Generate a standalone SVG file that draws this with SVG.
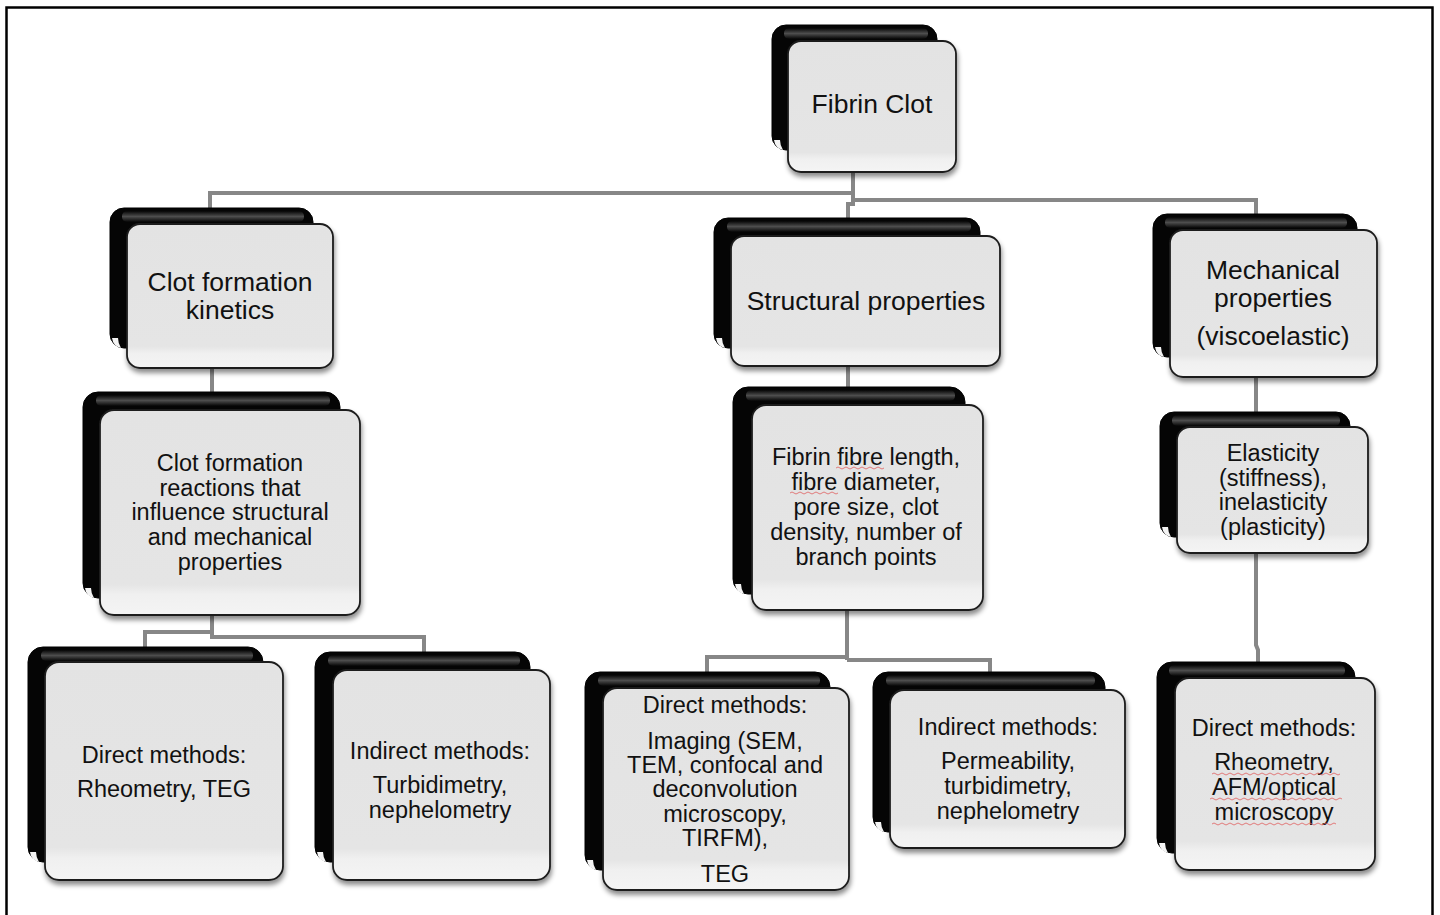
<svg xmlns="http://www.w3.org/2000/svg" width="1440" height="915" viewBox="0 0 1440 915">
<defs>
<filter id="sh" x="-10%" y="-10%" width="125%" height="130%">
<feDropShadow dx="1" dy="4" stdDeviation="2.5" flood-color="#000" flood-opacity="0.45"/>
</filter>
<linearGradient id="fg" x1="0" y1="0" x2="0" y2="1">
<stop offset="0" stop-color="#e3e3e3"/>
<stop offset="0.85" stop-color="#e5e5e5"/>
<stop offset="0.9" stop-color="#f0f0f0"/>
<stop offset="1" stop-color="#f4f4f4"/>
</linearGradient>
<linearGradient id="gl" x1="0" y1="0" x2="0" y2="1">
<stop offset="0" stop-color="#888" stop-opacity="0"/>
<stop offset="0.5" stop-color="#888" stop-opacity="0.55"/>
<stop offset="1" stop-color="#888" stop-opacity="0"/>
</linearGradient>
</defs>
<style>
.back{fill:#050505;stroke:#000;stroke-width:1}
.gloss{fill:url(#gl)}
.front{fill:url(#fg);stroke:#1c1c1c;stroke-width:1.8;filter:url(#sh)}
.curl{fill:#f4f4f4}
.conn{fill:none;stroke:#878787;stroke-width:4;stroke-linejoin:miter}
text{font-family:"Liberation Sans",Arial,sans-serif;fill:#111;text-anchor:middle}
.t1{font-size:26.5px}
.t2{font-size:23.5px}
.sq{fill:none;stroke:#e06060;stroke-width:1;opacity:0.8}
</style>
<rect x="0" y="0" width="1440" height="915" fill="#fff"/>
<rect x="6.5" y="7.5" width="1426" height="912" fill="none" stroke="#000" stroke-width="2.5"/>

<g id="connectors">
<path class="conn" d="M853,170 V193 H210 V212"/>
<path class="conn" d="M853,190 V200 H1256 V218"/>
<path class="conn" d="M853,200 V204 H848 V222"/>
<path class="conn" d="M212,366 V396"/>
<path class="conn" d="M212,613 V632 H145 V650"/>
<path class="conn" d="M212,630 V637 H424 V656"/>
<path class="conn" d="M848,364 V391"/>
<path class="conn" d="M847,608 V660"/>
<path class="conn" d="M847,657 H707 V676"/>
<path class="conn" d="M847,660 H990 V676"/>
<path class="conn" d="M1256,375 V416"/>
<path class="conn" d="M1256,551 V645 L1258,650 V666"/>
</g>

<g id="n-root">
<rect class="back" x="772" y="25" width="165" height="125" rx="14"/>
<rect class="gloss" x="784" y="28" width="144" height="11" rx="5"/>
<path class="curl" d="M774,140 q1,8 9,10 q-3,-5 -3,-10 z"/>
<rect class="front" x="788" y="41" width="168" height="131" rx="13"/>
<text class="t1" x="872" y="113">Fibrin Clot</text>
</g>

<g id="n-kinetics">
<rect class="back" x="110" y="208" width="203" height="140" rx="14"/>
<rect class="gloss" x="122" y="211" width="182" height="11" rx="5"/>
<path class="curl" d="M112,338 q1,8 9,10 q-3,-5 -3,-10 z"/>
<rect class="front" x="127" y="224" width="206" height="144" rx="13"/>
<text class="t1" x="230" y="291">Clot formation</text>
<text class="t1" x="230" y="319">kinetics</text>
</g>

<g id="n-reactions">
<rect class="back" x="83" y="392" width="257" height="206" rx="15"/>
<rect class="gloss" x="96" y="395" width="234" height="11" rx="5"/>
<path class="curl" d="M85,588 q1,8 9,10 q-3,-5 -3,-10 z"/>
<rect class="front" x="100" y="410" width="260" height="205" rx="14"/>
<text class="t2" x="230" y="471">Clot formation</text>
<text class="t2" x="230" y="496">reactions that</text>
<text class="t2" x="230" y="520">influence structural</text>
<text class="t2" x="230" y="545">and mechanical</text>
<text class="t2" x="230" y="570">properties</text>
</g>

<g id="n-left-direct">
<rect class="back" x="28" y="647" width="235" height="215" rx="15"/>
<rect class="gloss" x="41" y="650" width="212" height="11" rx="5"/>
<path class="curl" d="M30,852 q1,8 9,10 q-3,-5 -3,-10 z"/>
<rect class="front" x="45" y="662" width="238" height="218" rx="14"/>
<text class="t2" x="164" y="763">Direct methods:</text>
<text class="t2" x="164" y="797">Rheometry, TEG</text>
</g>

<g id="n-left-indirect">
<rect class="back" x="315" y="652" width="215" height="210" rx="15"/>
<rect class="gloss" x="328" y="655" width="192" height="11" rx="5"/>
<path class="curl" d="M317,852 q1,8 9,10 q-3,-5 -3,-10 z"/>
<rect class="front" x="333" y="670" width="217" height="210" rx="14"/>
<text class="t2" x="440" y="759">Indirect methods:</text>
<text class="t2" x="440" y="793">Turbidimetry,</text>
<text class="t2" x="440" y="818">nephelometry</text>
</g>

<g id="n-structural">
<rect class="back" x="714" y="218" width="266" height="130" rx="14"/>
<rect class="gloss" x="727" y="221" width="244" height="11" rx="5"/>
<path class="curl" d="M716,338 q1,8 9,10 q-3,-5 -3,-10 z"/>
<rect class="front" x="731" y="236" width="269" height="130" rx="13"/>
<text class="t1" x="866" y="310">Structural properties</text>
</g>

<g id="n-fibre">
<rect class="back" x="733" y="387" width="232" height="207" rx="15"/>
<rect class="gloss" x="746" y="390" width="209" height="11" rx="5"/>
<path class="curl" d="M735,584 q1,8 9,10 q-3,-5 -3,-10 z"/>
<rect class="front" x="752" y="405" width="231" height="205" rx="14"/>
<text class="t2" x="866" y="465">Fibrin fibre length,</text>
<text class="t2" x="866" y="490">fibre diameter,</text>
<text class="t2" x="866" y="515">pore size, clot</text>
<text class="t2" x="866" y="540">density, number of</text>
<text class="t2" x="866" y="565">branch points</text>
<path class="sq" d="M836,468 q2,-2 4,0 t4,0 t4,0 t4,0 t4,0 t4,0 t4,0 t4,0 t4,0 t4,0 t4,0 t4,0"/>
<path class="sq" d="M790,493 q2,-2 4,0 t4,0 t4,0 t4,0 t4,0 t4,0 t4,0 t4,0 t4,0 t4,0 t4,0 t4,0"/>
</g>

<g id="n-mid-direct">
<rect class="back" x="585" y="672" width="245" height="198" rx="15"/>
<rect class="gloss" x="598" y="675" width="222" height="11" rx="5"/>
<path class="curl" d="M587,860 q1,8 9,10 q-3,-5 -3,-10 z"/>
<rect class="front" x="603" y="688" width="246" height="202" rx="14"/>
<text class="t2" x="725" y="713">Direct methods:</text>
<text class="t2" x="725" y="749">Imaging (SEM,</text>
<text class="t2" x="725" y="773">TEM, confocal and</text>
<text class="t2" x="725" y="797">deconvolution</text>
<text class="t2" x="725" y="822">microscopy,</text>
<text class="t2" x="725" y="846">TIRFM),</text>
<text class="t2" x="725" y="882">TEG</text>
</g>

<g id="n-mid-indirect">
<rect class="back" x="873" y="672" width="232" height="160" rx="15"/>
<rect class="gloss" x="886" y="675" width="209" height="11" rx="5"/>
<path class="curl" d="M875,822 q1,8 9,10 q-3,-5 -3,-10 z"/>
<rect class="front" x="890" y="690" width="235" height="158" rx="14"/>
<text class="t2" x="1008" y="735">Indirect methods:</text>
<text class="t2" x="1008" y="769">Permeability,</text>
<text class="t2" x="1008" y="794">turbidimetry,</text>
<text class="t2" x="1008" y="819">nephelometry</text>
</g>

<g id="n-mechanical">
<rect class="back" x="1153" y="214" width="204" height="143" rx="14"/>
<rect class="gloss" x="1165" y="217" width="182" height="11" rx="5"/>
<path class="curl" d="M1155,347 q1,8 9,10 q-3,-5 -3,-10 z"/>
<rect class="front" x="1170" y="230" width="207" height="147" rx="13"/>
<text class="t1" x="1273" y="279">Mechanical</text>
<text class="t1" x="1273" y="307">properties</text>
<text class="t1" x="1273" y="345">(viscoelastic)</text>
</g>

<g id="n-elasticity">
<rect class="back" x="1160" y="412" width="190" height="125" rx="14"/>
<rect class="gloss" x="1172" y="415" width="168" height="11" rx="5"/>
<path class="curl" d="M1162,527 q1,8 9,10 q-3,-5 -3,-10 z"/>
<rect class="front" x="1177" y="427" width="191" height="126" rx="13"/>
<text class="t2" x="1273" y="461">Elasticity</text>
<text class="t2" x="1273" y="486">(stiffness),</text>
<text class="t2" x="1273" y="510">inelasticity</text>
<text class="t2" x="1273" y="535">(plasticity)</text>
</g>

<g id="n-right-direct">
<rect class="back" x="1157" y="662" width="198" height="191" rx="15"/>
<rect class="gloss" x="1169" y="665" width="176" height="11" rx="5"/>
<path class="curl" d="M1159,843 q1,8 9,10 q-3,-5 -3,-10 z"/>
<rect class="front" x="1175" y="678" width="200" height="192" rx="14"/>
<text class="t2" x="1274" y="736">Direct methods:</text>
<text class="t2" x="1274" y="770">Rheometry,</text>
<text class="t2" x="1274" y="795">AFM/optical</text>
<text class="t2" x="1274" y="820">microscopy</text>
<path class="sq" d="M1212,774 q2,-2 4,0 t4,0 t4,0 t4,0 t4,0 t4,0 t4,0 t4,0 t4,0 t4,0 t4,0 t4,0 t4,0 t4,0 t4,0 t4,0 t4,0 t4,0 t4,0 t4,0 t4,0 t4,0 t4,0 t4,0 t4,0 t4,0 t4,0 t4,0 t4,0 t4,0 t4,0 t4,0"/>
<path class="sq" d="M1210,799 q2,-2 4,0 t4,0 t4,0 t4,0 t4,0 t4,0 t4,0 t4,0 t4,0 t4,0 t4,0 t4,0 t4,0 t4,0 t4,0 t4,0 t4,0 t4,0 t4,0 t4,0 t4,0 t4,0 t4,0 t4,0 t4,0 t4,0 t4,0 t4,0 t4,0 t4,0 t4,0 t4,0 t4,0"/>
<path class="sq" d="M1212,824 q2,-2 4,0 t4,0 t4,0 t4,0 t4,0 t4,0 t4,0 t4,0 t4,0 t4,0 t4,0 t4,0 t4,0 t4,0 t4,0 t4,0 t4,0 t4,0 t4,0 t4,0 t4,0 t4,0 t4,0 t4,0 t4,0 t4,0 t4,0 t4,0 t4,0 t4,0 t4,0"/>
</g>
</svg>
